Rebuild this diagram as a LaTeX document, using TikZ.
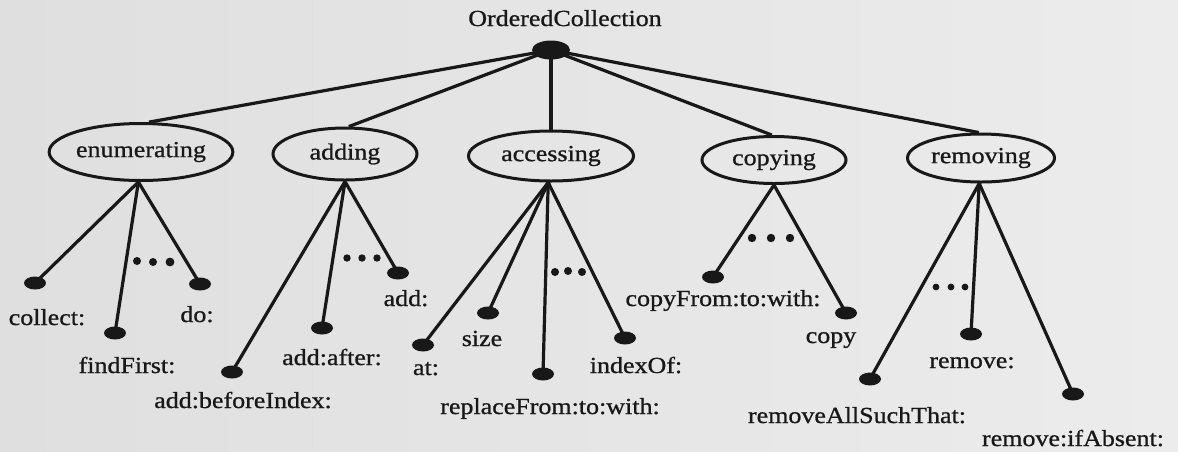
\documentclass[tikz,border=0pt]{standalone}
\usepackage{fontspec}
\setmainfont{Liberation Serif}[FakeStretch=1.13, FakeBold=0.9]
\usetikzlibrary{shapes.geometric}
\pgfdeclarelayer{paper}
\pgfdeclarelayer{links}
\pgfsetlayers{paper,links,main}
\definecolor{ink}{RGB}{24,24,24}
\definecolor{paperL}{RGB}{223,223,223}
\definecolor{paperR}{RGB}{236,236,236}
\tikzset{
  catnode/.style={ellipse, draw=ink, line width=3pt, inner sep=0pt,
    text=ink, font=\fontsize{23}{25}\selectfont},
  leafdot/.style={ellipse, fill=ink, inner sep=0pt,
    minimum width=22pt, minimum height=13pt},
  rootdot/.style={ellipse, fill=ink, inner sep=0pt,
    minimum width=38pt, minimum height=19pt},
  lbl/.style={anchor=base, inner sep=0pt, text=ink,
    font=\fontsize{23}{25}\selectfont},
  link/.style={draw=ink, line width=3.2pt},
  gapdot/.style={fill=ink}
}
\begin{document}
\begin{tikzpicture}[x=1pt, y=-1pt]
  \useasboundingbox (0,0) rectangle (1178,451);
  \begin{pgfonlayer}{paper}
    \shade[left color=paperL, right color=paperR] (0,0) rectangle (1178,451);
  \end{pgfonlayer}

  % root of the hierarchy
  \node[rootdot] (root) at (551,50) {};
  \node[lbl] (title) at (565,26) {OrderedCollection};

  % method categories
  \node[catnode, minimum width=177pt, minimum height=57pt] (enum)      at (141,152) {enumerating};
  \node[catnode, minimum width=144pt, minimum height=52pt] (adding)    at (345,154) {adding};
  \node[catnode, minimum width=165pt, minimum height=50pt] (accessing) at (551,156) {accessing};
  \node[catnode, minimum width=144pt, minimum height=47pt] (copying)   at (774,160) {copying};
  \node[catnode, minimum width=147pt, minimum height=48pt] (removing)  at (981,158) {removing};

  % selectors: dots
  \node[leafdot] (collect)    at (35,283)  {};
  \node[leafdot] (findfirst)  at (115,333) {};
  \node[leafdot] (do)         at (200,284) {};
  \node[leafdot] (addbefore)  at (232,372) {};
  \node[leafdot] (addafter)   at (322,328) {};
  \node[leafdot] (add)        at (398,273) {};
  \node[leafdot] (at)         at (423,345) {};
  \node[leafdot] (size)       at (488,313) {};
  \node[leafdot] (replace)    at (543,374) {};
  \node[leafdot] (indexof)    at (625,338) {};
  \node[leafdot] (copyfrom)   at (713,277) {};
  \node[leafdot] (copy)       at (846,313) {};
  \node[leafdot] (removeall)  at (870,379) {};
  \node[leafdot] (remove)     at (971,334) {};
  \node[leafdot] (removeif)   at (1073,394) {};

  % selectors: names
  \node[lbl] (tcollect)   at (47,325)   {collect:};
  \node[lbl] (tfindfirst) at (127,373)  {findFirst:};
  \node[lbl] (tdo)        at (197,322)  {do:};
  \node[lbl] (taddbefore) at (243,408)  {add:beforeIndex:};
  \node[lbl] (taddafter)  at (332,365)  {add:after:};
  \node[lbl] (tadd)       at (406,306)  {add:};
  \node[lbl] (tat)        at (426,375)  {at:};
  \node[lbl] (tsize)      at (482,346)  {size};
  \node[lbl] (treplace)   at (550,414)  {replaceFrom:to:with:};
  \node[lbl] (tindexof)   at (636,373)  {indexOf:};
  \node[lbl] (tcopyfrom)  at (723,306)  {copyFrom:to:with:};
  \node[lbl] (tcopy)      at (831,343)  {copy};
  \node[lbl] (tremoveall) at (857,423)  {removeAllSuchThat:};
  \node[lbl] (tremove)    at (972,368)  {remove:};
  \node[lbl] (tremoveif)  at (1073,446) {remove:ifAbsent:};

  % elided selectors
  \foreach \x/\y/\r in {137/261/4, 153/262/4, 170/262/4.4,
                        347/258/3.7, 362/258/3.7, 377/258/3.7,
                        555/272/4, 568/271/4, 582/272/4,
                        752/238/4.2, 771/238/4.2, 790/238/4.2,
                        936/287/3.4, 951/287/3.4, 965/287/3.4}
    \fill[gapdot] (\x,\y) circle (\r);

  \begin{pgfonlayer}{links}
    \draw[link] (root.center) -- (enum.75);
    \draw[link] (root.center) -- (adding.82);
    \draw[link] (root.center) -- (accessing.north);
    \draw[link] (root.center) -- (copying.95);
    \draw[link] (root.center) -- (removing.95);

    \draw[link] (enum.265) -- (collect.center);
    \draw[link] (enum.265) -- (findfirst.center);
    \draw[link] (enum.265) -- (do.center);

    \draw[link] (adding.south) -- (addbefore.center);
    \draw[link] (adding.south) -- (addafter.center);
    \draw[link] (adding.south) -- (add.center);

    \draw[link] (accessing.264) -- (at.center);
    \draw[link] (accessing.264) -- (size.center);
    \draw[link] (accessing.264) -- (replace.center);
    \draw[link] (accessing.264) -- (indexof.center);

    \draw[link] (copying.south) -- (copyfrom.center);
    \draw[link] (copying.south) -- (copy.center);

    \draw[link] (removing.266) -- (removeall.center);
    \draw[link] (removing.266) -- (remove.center);
    \draw[link] (removing.266) -- (removeif.center);
  \end{pgfonlayer}
\end{tikzpicture}
\end{document}
